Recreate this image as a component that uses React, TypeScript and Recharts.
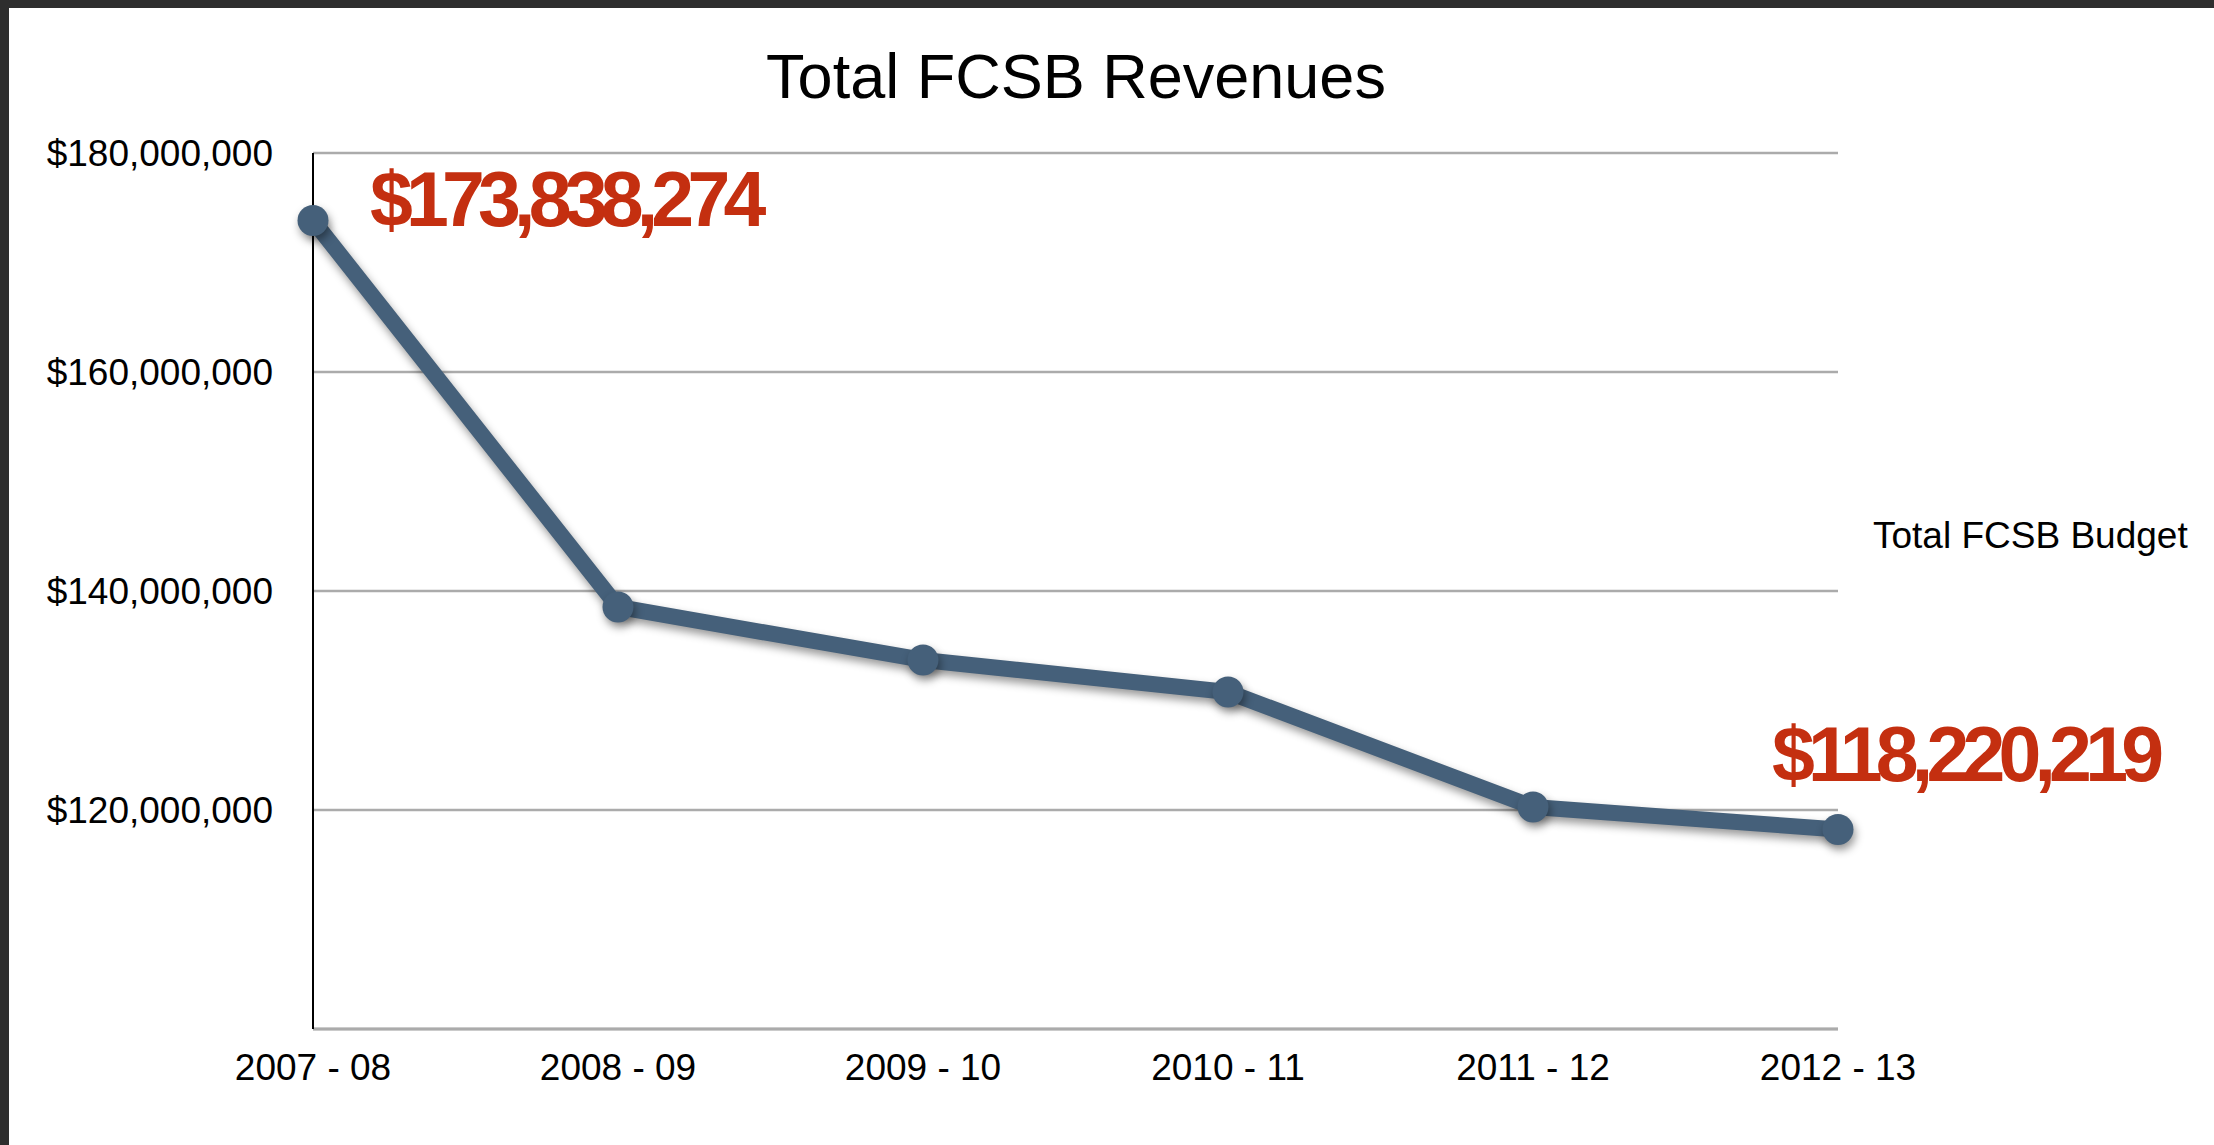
import React from 'react';
import { LineChart, Line, XAxis, YAxis, CartesianGrid, LabelList } from 'recharts';

const chartTitle = 'Total FCSB Revenues';
const seriesName = 'Total FCSB Budget';
const categories = ['2007 - 08', '2008 - 09', '2009 - 10', '2010 - 11', '2011 - 12', '2012 - 13'];
const revenues = [173838274, 138540000, 133700000, 130780000, 120270000, 118220219];
const yTicks = [120000000, 140000000, 160000000, 180000000];
const yDomain = [100000000, 180000000];
const labelledIndices = [0, 5];

const data = categories.map((c, i) => ({ period: c, value: revenues[i] }));

const FONT = '"Liberation Sans", Arial, Helvetica, sans-serif';
const LINE_COLOR = '#45607a';
const RED = '#c42f10';

const fmt = (v: number) => '$' + Math.round(v).toLocaleString('en-US');

const XTick = (props: any) => {
  const { x, y, payload } = props;
  return (
    <text x={x} y={y + 51} textAnchor="middle" fontFamily={FONT} fontSize={37} fill="#000">
      {payload.value}
    </text>
  );
};

const YTick = (props: any) => {
  const { x, y, payload } = props;
  return (
    <text x={x - 40} y={y + 13} textAnchor="end" fontFamily={FONT} fontSize={37} fill="#000">
      {fmt(payload.value)}
    </text>
  );
};

const ValueLabel = (props: any) => {
  const { x, y, value, index } = props;
  if (!labelledIndices.includes(index)) return null;
  const isFirst = index === 0;
  const tx = isFirst ? x + 57 : x - 66;
  const ty = isFirst ? y + 6 : y - 48;
  return (
    <text
      x={tx}
      y={ty}
      textAnchor="start"
      fontFamily={FONT}
      fontWeight="bold"
      fontSize={77}
      letterSpacing={-6.8}
      fill={RED}
    >
      {fmt(value)}
    </text>
  );
};

export default function App() {
  return (
    <div style={{ position: 'absolute', left: 0, top: 0, width: 2214, height: 1145, background: '#2e2e2e', overflow: 'hidden' }}>
      <style>{`.recharts-line-curve, .recharts-line-dots { filter: drop-shadow(2px 5px 4px rgba(0,0,0,0.4)); }`}</style>
      <div style={{ position: 'absolute', left: 9, top: 8, right: 0, bottom: 0, background: '#ffffff' }} />
      <div style={{ position: 'absolute', left: 0, top: 0 }}>
        <LineChart width={2214} height={1145} data={data} margin={{ top: 153, right: 376, bottom: 0, left: 0 }}>
          <CartesianGrid vertical={false} stroke="#ababab" strokeWidth={2.5} />
          <XAxis
            dataKey="period"
            height={116}
            tickSize={0}
            tickMargin={0}
            tickLine={false}
            axisLine={{ stroke: '#ababab', strokeWidth: 3 }}
            tick={<XTick />}
            interval={0}
          />
          <YAxis
            width={313}
            domain={yDomain}
            ticks={yTicks}
            type="number"
            allowDataOverflow
            tickSize={0}
            tickMargin={0}
            tickLine={false}
            axisLine={{ stroke: '#000', strokeWidth: 2 }}
            tick={<YTick />}
          />
          <Line
            type="linear"
            dataKey="value"
            name={seriesName}
            stroke={LINE_COLOR}
            strokeWidth={16}
            strokeLinejoin="round"
            dot={{ r: 15.5, fill: LINE_COLOR, stroke: 'none', strokeWidth: 0 }}
            activeDot={false}
            isAnimationActive={false}
          >
            <LabelList dataKey="value" content={<ValueLabel />} />
          </Line>
        </LineChart>
      </div>
      <svg width={2214} height={1145} style={{ position: 'absolute', left: 0, top: 0, pointerEvents: 'none' }}>
        <text x={1076} y={98} textAnchor="middle" fontFamily={FONT} fontSize={63} fill="#000">
          {chartTitle}
        </text>
        <text x={1873} y={548} textAnchor="start" fontFamily={FONT} fontSize={37} fill="#000">
          {seriesName}
        </text>
      </svg>
    </div>
  );
}
